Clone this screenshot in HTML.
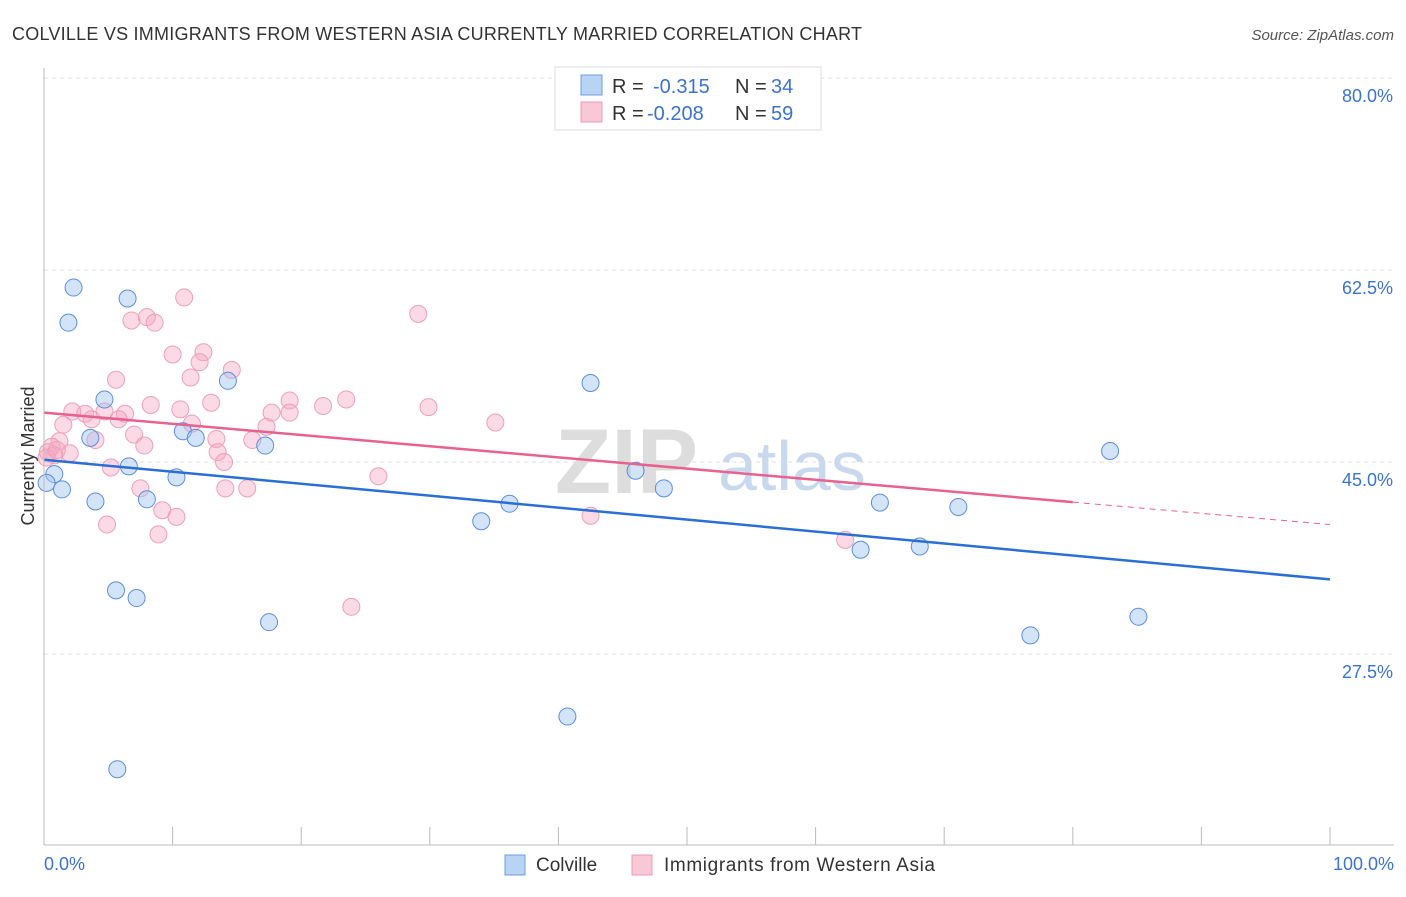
<!DOCTYPE html>
<html><head><meta charset="utf-8"><style>
body{margin:0;background:#fff;font-family:"Liberation Sans",sans-serif;}
svg text{font-family:"Liberation Sans",sans-serif;}
</style></head><body>
<svg id="chart" width="1406" height="892">
<text x="12" y="40" font-size="18" fill="#333" textLength="850">COLVILLE VS IMMIGRANTS FROM WESTERN ASIA CURRENTLY MARRIED CORRELATION CHART</text>
<text x="1394" y="40" font-size="15" fill="#555" font-style="italic" text-anchor="end">Source: ZipAtlas.com</text>
<text x="34" y="456" font-size="18" fill="#333" text-anchor="middle" transform="rotate(-90 34 456)">Currently Married</text>
<text x="555" y="493" font-size="92" fill="#ddd" font-family="Liberation Serif" font-weight="bold">ZIP</text>
<text x="718" y="490" font-size="70" fill="#c8d8ee">atlas</text>
<g id="grid"></g><g id="pts"></g><g id="lines"></g>
<line x1="44" y1="68" x2="44" y2="845" stroke="#bbb"/>
<line x1="44" y1="845" x2="1394" y2="845" stroke="#bbb"/>
<text x="44" y="870" font-size="18" fill="#3b73d1">0.0%</text>
<text x="1394" y="870" font-size="18" fill="#3b73d1" text-anchor="end">100.0%</text>
<rect x="505" y="855" width="20" height="20" fill="#b9d3f5" stroke="#6d9de0"/>
<text x="536" y="871" font-size="19" fill="#333">Colville</text>
<rect x="632" y="855" width="20" height="20" fill="#f9c8d6" stroke="#ec9ab2"/>
<text x="664" y="871" font-size="19" fill="#333" textLength="271">Immigrants from Western Asia</text>
<rect x="555" y="67" width="266" height="63" fill="#fff" stroke="#ddd"/>
<rect x="581" y="75" width="21" height="20" fill="#b9d3f5" stroke="#6d9de0"/>
<rect x="581" y="102" width="21" height="20" fill="#f9c8d6" stroke="#ec9ab2"/>
<text x="612" y="93" font-size="20" fill="#333">R = <tspan x="653" fill="#3b73d1">-0.315</tspan><tspan x="735">N = </tspan><tspan x="771" fill="#3b73d1">34</tspan></text>
<text x="612" y="120" font-size="20" fill="#333">R = <tspan x="647" fill="#3b73d1">-0.208</tspan><tspan x="735">N = </tspan><tspan x="771" fill="#3b73d1">59</tspan></text>
</svg>
<script>
const yTicks=[80,62.5,45,27.5];
const xTicks=[0,10,20,30,40,50,60,70,80,90,100];
const blueX=[2.3,6.5,1.9,14.3,42.5,4.7,10.8,11.8,3.6,17.2,6.6,82.9,46.0,0.8,10.3,0.2,1.4,48.2,4.0,8.0,36.2,65.0,71.1,34.0,63.5,68.1,5.6,7.2,17.5,76.7,85.1,40.7,5.7];
const blueY=[60.9,59.9,57.7,52.4,52.2,50.7,47.8,47.2,47.2,46.5,44.6,46.0,44.2,43.9,43.6,43.1,42.5,42.6,41.4,41.6,41.2,41.3,40.9,39.6,37.0,37.3,33.3,32.6,30.4,29.2,30.9,21.8,17.0];
const pinkX=[10.9,29.1,6.8,8.0,8.6,10.0,12.4,12.1,14.6,11.4,5.6,8.3,10.6,13.0,19.1,23.5,21.7,29.9,17.7,19.1,6.3,2.2,3.2,4.7,5.8,3.7,35.1,11.5,17.3,1.5,7.0,4.0,13.4,16.2,7.8,1.2,0.6,2.0,13.5,0.8,0.2,14.0,5.2,26.0,7.5,14.1,15.8,9.2,10.3,42.5,4.9,8.9,62.3,23.9,0.3,1.0];
const pinkY=[60.0,58.5,57.9,58.2,57.7,54.8,55.0,54.1,53.4,52.7,52.5,50.2,49.8,50.4,50.6,50.7,50.1,50.0,49.5,49.5,49.4,49.6,49.4,49.6,48.9,48.9,48.6,48.5,48.2,48.4,47.5,47.0,47.1,47.0,46.5,46.9,46.4,45.8,45.9,45.6,45.4,45.0,44.5,43.7,42.6,42.6,42.6,40.6,40.0,40.1,39.3,38.4,37.9,31.8,45.9,46.1];
const blueTrend=[45.2,34.3];
const pinkTrend=[49.5,39.3];
const pinkSolidEnd=80;
const NS='http://www.w3.org/2000/svg';
const xs=v=>44+v/100*1286;
const ys=v=>462-(v-45)/17.5*192;
function mk(t,a,p){const e=document.createElementNS(NS,t);for(const k in a)e.setAttribute(k,a[k]);p.appendChild(e);return e;}
const grid=document.getElementById('grid');
yTicks.forEach(t=>{
 const l=mk('line',{x1:44,x2:1394,y1:ys(t),y2:ys(t),stroke:'#ddd','stroke-dasharray':'4,4'},grid);
 
 
 const tx=mk('text',{x:1393,y:ys(t)+24,'font-size':18,fill:'#3b73d1','text-anchor':'end'},grid);
 tx.textContent=t.toFixed(1)+'%';
 
 
});
xTicks.forEach(t=>{
 const l=mk('line',{x1:xs(t),x2:xs(t),y1:827,y2:845,stroke:'#bbb'},grid);
 
 
});
const pts=document.getElementById('pts');
pinkX.forEach((x,i)=>{
 const c=mk('circle',{cx:xs(x),cy:ys(pinkY[i]),r:8.5,fill:'rgba(246,168,192,0.42)',stroke:'#eca0b8','stroke-width':1},pts);
 
 
});
blueX.forEach((x,i)=>{
 const c=mk('circle',{cx:xs(x),cy:ys(blueY[i]),r:8.5,fill:'rgba(160,196,240,0.45)',stroke:'#5b8fdc','stroke-width':1},pts);
 
 
});
const lines=document.getElementById('lines');
const bl=mk('line',{x1:xs(0),y1:ys(blueTrend[0]),x2:xs(100),y2:ys(blueTrend[1]),stroke:'#2a6fd6','stroke-width':2.5},lines);


const pm=pinkTrend[0]+(pinkTrend[1]-pinkTrend[0])*pinkSolidEnd/100;
const pl=mk('line',{x1:xs(0),y1:ys(pinkTrend[0]),x2:xs(pinkSolidEnd),y2:ys(pm),stroke:'#e8628e','stroke-width':2.5},lines);


const pd=mk('line',{x1:xs(pinkSolidEnd),y1:ys(pm),x2:xs(100),y2:ys(pinkTrend[1]),stroke:'#e8628e','stroke-width':1,'stroke-dasharray':'6,5'},lines);


</script>
</body></html>
